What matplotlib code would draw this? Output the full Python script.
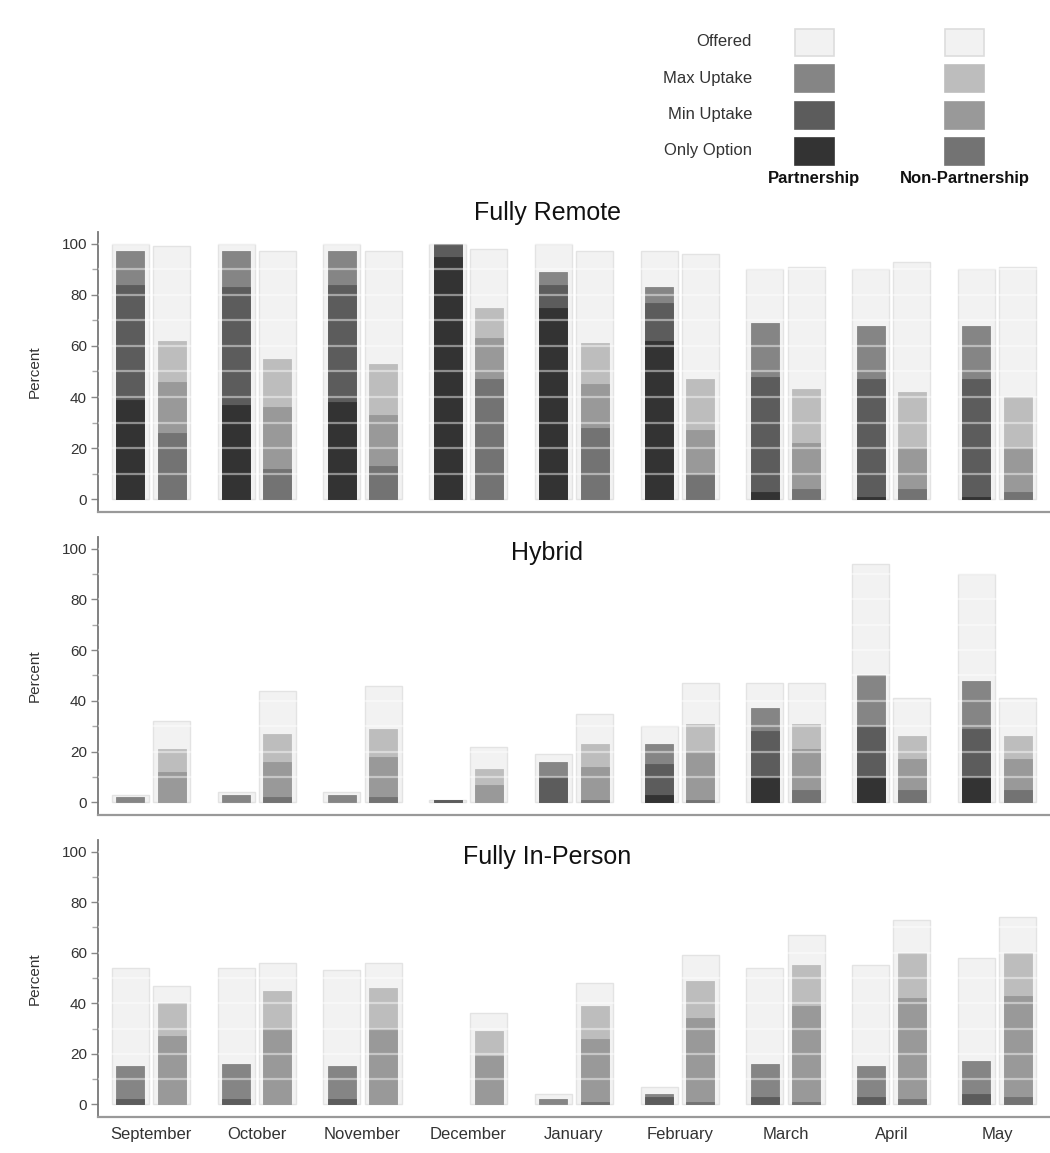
import matplotlib
matplotlib.use("Agg")
import matplotlib.pyplot as plt
from matplotlib.patches import Rectangle
import numpy as np

plt.rcParams["font.family"] = ["Liberation Sans", "DejaVu Sans"]

# --------------------------------------------------
# DATA (percent)
# --------------------------------------------------
months = ["September", "October", "November", "December", "January",
          "February", "March", "April", "May"]
layers = ["Offered", "Max Uptake", "Min Uptake", "Only Option"]
groups = ["Partnership", "Non-Partnership"]

# Fully Remote
remote_p_offered = [100, 100, 100, 100, 100, 97, 90, 90, 90]
remote_p_max = [97, 97, 97, 100, 89, 83, 69, 68, 68]
remote_p_min = [84, 83, 84, 100, 84, 77, 48, 47, 47]
remote_p_only = [39, 37, 38, 95, 75, 62, 3, 1, 1]
remote_n_offered = [99, 97, 97, 98, 97, 96, 91, 93, 91]
remote_n_max = [62, 55, 53, 75, 61, 47, 43, 42, 40]
remote_n_min = [46, 36, 33, 63, 45, 27, 22, 20, 20]
remote_n_only = [26, 12, 13, 47, 28, 10, 4, 4, 3]

# Hybrid
hybrid_p_offered = [3, 4, 4, 1, 19, 30, 47, 94, 90]
hybrid_p_max = [2, 3, 3, 1, 16, 23, 37, 50, 48]
hybrid_p_min = [0, 0, 0, 1, 10, 15, 28, 30, 29]
hybrid_p_only = [0, 0, 0, 0, 0, 3, 10, 10, 10]
hybrid_n_offered = [32, 44, 46, 22, 35, 47, 47, 41, 41]
hybrid_n_max = [21, 27, 29, 13, 23, 31, 31, 26, 26]
hybrid_n_min = [12, 16, 18, 7, 14, 20, 21, 17, 17]
hybrid_n_only = [0, 2, 2, 0, 1, 1, 5, 5, 5]

# Fully In-Person
person_p_offered = [54, 54, 53, 0, 4, 7, 54, 55, 58]
person_p_max = [15, 16, 15, 0, 2, 4, 16, 15, 17]
person_p_min = [2, 2, 2, 0, 0, 3, 3, 3, 4]
person_p_only = [0, 0, 0, 0, 0, 0, 0, 0, 0]
person_n_offered = [47, 56, 56, 36, 48, 59, 67, 73, 74]
person_n_max = [40, 45, 46, 29, 39, 49, 55, 60, 60]
person_n_min = [27, 30, 30, 19, 26, 34, 39, 42, 43]
person_n_only = [0, 0, 0, 0, 1, 1, 1, 2, 3]

panels = [
    ("Fully Remote",
     [remote_p_offered, remote_p_max, remote_p_min, remote_p_only],
     [remote_n_offered, remote_n_max, remote_n_min, remote_n_only]),
    ("Hybrid",
     [hybrid_p_offered, hybrid_p_max, hybrid_p_min, hybrid_p_only],
     [hybrid_n_offered, hybrid_n_max, hybrid_n_min, hybrid_n_only]),
    ("Fully In-Person",
     [person_p_offered, person_p_max, person_p_min, person_p_only],
     [person_n_offered, person_n_max, person_n_min, person_n_only]),
]

# colours: Offered, Max, Min, Only
colors_p = ["#f2f2f2", "#858585", "#5c5c5c", "#333333"]
colors_n = ["#f2f2f2", "#bdbdbd", "#999999", "#737373"]

# --------------------------------------------------
# FIGURE
# --------------------------------------------------
W, H = 1050, 1153
fig = plt.figure(figsize=(W / 100, H / 100), dpi=100)


def fy(px):
    return 1 - px / H


# axes boxes in pixels (top, bottom)
boxes = [(232, 512), (537, 815), (840, 1117)]
title_y = [213, 553, 857]
x0 = 98

x = np.arange(len(months))
off = 0.195
w_out = 0.35
w_in = 0.265

for i, ((title, pvals, nvals), (top, bot)) in enumerate(zip(panels, boxes)):
    ax = fig.add_axes([x0 / W, fy(bot), (W - x0) / W, (bot - top) / H])
    for vals, cols, sign in [(pvals, colors_p, -1), (nvals, colors_n, 1)]:
        xs = x + sign * off
        lw = [1.0 if v > 0 else 0 for v in vals[0]]
        ax.bar(xs, vals[0], width=w_out, color=cols[0], edgecolor="#e3e3e3",
               linewidth=lw, zorder=1)
        for k in range(1, 4):
            lw = [0.6 if v > 0 else 0 for v in vals[k]]
            ax.bar(xs, vals[k], width=w_in, color=cols[k], edgecolor=cols[k],
                   linewidth=lw, zorder=1 + k)
    # white grid lines over the bars
    for g in range(10, 101, 10):
        ax.axhline(g, color="white", alpha=0.45, lw=1.6, zorder=6)

    ax.set_xlim(-0.5, len(months) - 0.5)
    ax.set_ylim(-5, 104.6)
    ax.set_yticks(range(0, 101, 20))
    ax.set_yticks(range(10, 100, 20), minor=True)
    ax.tick_params(axis="y", which="major", length=5, width=1, color="#888888",
                   labelsize=11, labelcolor="#333333", pad=3)
    ax.tick_params(axis="y", which="minor", length=4, width=1, color="#aaaaaa")
    ax.set_xticks(x)
    if i == 2:
        ax.set_xticklabels(months, fontsize=12, color="#333333")
    else:
        ax.set_xticklabels([])
    ax.tick_params(axis="x", length=0, pad=7)
    for s in ["top", "right"]:
        ax.spines[s].set_visible(False)
    ax.spines["left"].set_color("#777777")
    ax.spines["left"].set_linewidth(1.3)
    ax.spines["bottom"].set_color("#999999")
    ax.spines["bottom"].set_linewidth(1.6)
    ax.set_ylabel("Percent", fontsize=11, color="#333333", labelpad=14)
    fig.text(547 / W, fy(title_y[i]), title, ha="center", va="center",
             fontsize=18, color="#111111")

# --------------------------------------------------
# LEGEND (drawn in pixel coordinates)
# --------------------------------------------------
lx0, lx1, ly0, ly1 = 640, 1050, 18, 195
lax = fig.add_axes([lx0 / W, fy(ly1), (lx1 - lx0) / W, (ly1 - ly0) / H])
lax.set_xlim(lx0, lx1)
lax.set_ylim(ly1, ly0)
lax.axis("off")

row_y = [42, 78, 115, 151]
col_x = [814, 965]
sq_w, sq_h = 39, 27
for r, name in enumerate(layers):
    lax.text(752, row_y[r], name, ha="right", va="center", fontsize=12,
             color="#333333")
    for c, cols in enumerate([colors_p, colors_n]):
        lax.add_patch(Rectangle((col_x[c] - sq_w / 2, row_y[r] - sq_h / 2),
                                sq_w, sq_h, facecolor=cols[r],
                                edgecolor="#dddddd" if r == 0 else cols[r],
                                linewidth=1.2))
for c, g in enumerate(groups):
    lax.text(col_x[c], 179, g, ha="center", va="center", fontsize=12,
             fontweight="bold", color="#111111")

fig.savefig("out.png", dpi=100)
